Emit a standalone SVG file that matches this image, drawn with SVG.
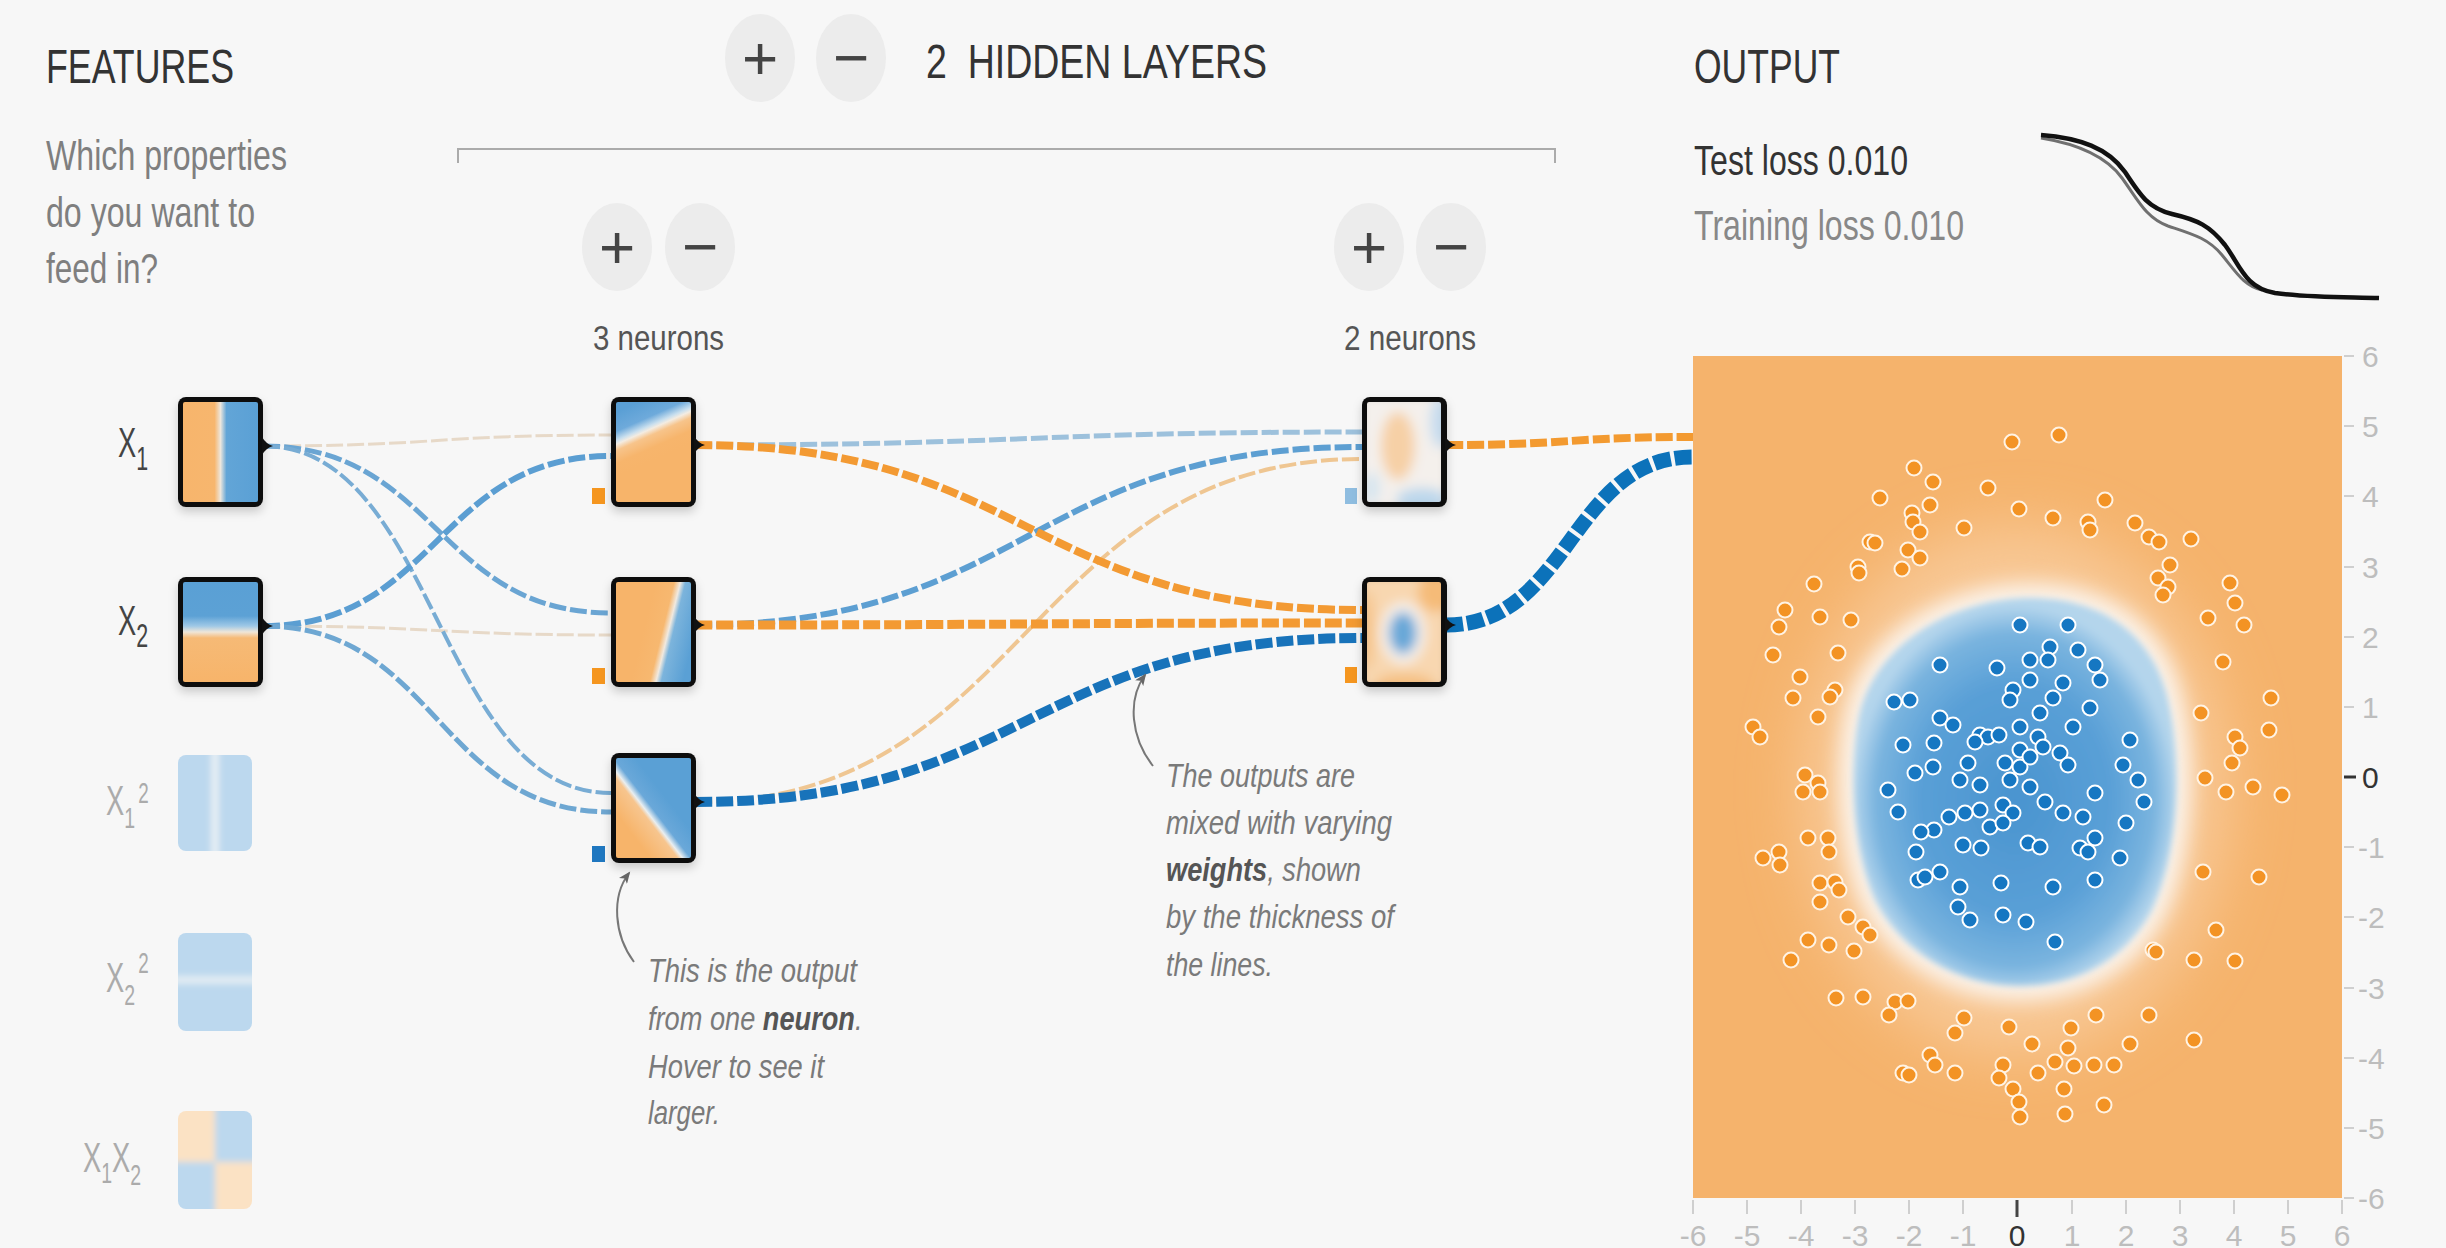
<svg xmlns="http://www.w3.org/2000/svg" xmlns:xlink="http://www.w3.org/1999/xlink" width="2446" height="1248" viewBox="0 0 2446 1248">
<style>
text{font-family:"Liberation Sans",Arial,sans-serif}
.h{font-size:49px;fill:#333}
.sub{font-size:42px;fill:#7f7f7f}
.nl{font-size:35px;fill:#555}
.loss{font-size:43px}
.btn{fill:#ececec}
.sym{font-size:62px;fill:#444;text-anchor:middle}
.xl{font-size:42px;fill:#444}
.xf{font-size:42px;fill:#ababab}
.note{font-size:34px;font-style:italic;fill:#7a7a7a}
.nb{font-weight:bold;fill:#555}
.frame{fill:#111;filter:url(#shadow)}
.bump{fill:#111}
.lk{fill:none;stroke-dasharray:17 4}
.ax{font-size:30px;fill:#bdbdbd}
.axm{font-size:30px;fill:#bdbdbd;text-anchor:middle}
.tk{stroke:#cfcfcf;stroke-width:2}
.pb{fill:#1677c2;stroke:#fff;stroke-width:2}
.po{fill:#f39324;stroke:#fff3e4;stroke-width:2}
</style>
<defs>
<filter id="shadow" x="-20%" y="-20%" width="140%" height="150%"><feDropShadow dx="0" dy="5" stdDeviation="5" flood-color="#000" flood-opacity="0.18"/></filter>
<filter id="blur3" x="-20%" y="-20%" width="140%" height="140%"><feGaussianBlur stdDeviation="3"/></filter>
<filter id="blur5" x="-20%" y="-20%" width="140%" height="140%"><feGaussianBlur stdDeviation="6"/></filter>
<filter id="blurS" x="-20%" y="-20%" width="140%" height="140%"><feGaussianBlur stdDeviation="3"/></filter>
<filter id="blurM" x="-30%" y="-30%" width="160%" height="160%"><feGaussianBlur stdDeviation="10"/></filter>
<filter id="blurL" x="-40%" y="-40%" width="180%" height="180%"><feGaussianBlur stdDeviation="28"/></filter>
<linearGradient id="gX1" gradientUnits="userSpaceOnUse" x1="183" y1="0" x2="258" y2="0">
<stop offset="0" stop-color="#f7b56c"/><stop offset="0.42" stop-color="#f7b66e"/><stop offset="0.5" stop-color="#ede6dc"/><stop offset="0.58" stop-color="#62a5d7"/><stop offset="1" stop-color="#5aa0d5"/>
</linearGradient>
<linearGradient id="gX2" gradientUnits="userSpaceOnUse" x1="0" y1="582" x2="0" y2="682">
<stop offset="0" stop-color="#5aa0d5"/><stop offset="0.34" stop-color="#5ca1d5"/><stop offset="0.44" stop-color="#9fc8e6"/><stop offset="0.5" stop-color="#efe6d8"/><stop offset="0.56" stop-color="#f6ba76"/><stop offset="1" stop-color="#f7b46a"/>
</linearGradient>
<linearGradient id="gN1" gradientUnits="userSpaceOnUse" x1="641" y1="401" x2="665" y2="455">
<stop offset="0" stop-color="#5a9fd5"/><stop offset="0.3" stop-color="#6eaadb"/><stop offset="0.44" stop-color="#c9dfee"/><stop offset="0.5" stop-color="#f3ece2"/><stop offset="0.6" stop-color="#f7c48b"/><stop offset="0.8" stop-color="#f7b56c"/><stop offset="1" stop-color="#f7b46a"/>
</linearGradient>
<linearGradient id="gN2" gradientUnits="userSpaceOnUse" x1="645" y1="625" x2="694" y2="637">
<stop offset="0" stop-color="#f7b46a"/><stop offset="0.36" stop-color="#f7b870"/><stop offset="0.48" stop-color="#f1e9df"/><stop offset="0.58" stop-color="#7cb4dc"/><stop offset="1" stop-color="#5aa0d5"/>
</linearGradient>
<linearGradient id="gN3" gradientUnits="userSpaceOnUse" x1="667" y1="799" x2="628" y2="829">
<stop offset="0" stop-color="#5aa0d5"/><stop offset="0.35" stop-color="#6aa8d9"/><stop offset="0.48" stop-color="#e9eef0"/><stop offset="0.56" stop-color="#f7c58e"/><stop offset="1" stop-color="#f7b46a"/>
</linearGradient>
<radialGradient id="blobGrad" cx="50%" cy="52%" r="50%">
<stop offset="0" stop-color="#4a94cf"/><stop offset="0.6" stop-color="#5aa0d7"/><stop offset="0.86" stop-color="#7ab4df"/><stop offset="1" stop-color="#b4d5ec"/>
</radialGradient>
<clipPath id="cM1"><rect x="1367" y="402" width="74" height="100" rx="2"/></clipPath>
<clipPath id="cM2"><rect x="1367" y="582" width="74" height="100" rx="2"/></clipPath>
<clipPath id="cF1"><rect x="178" y="755" width="74" height="96" rx="8"/></clipPath>
<clipPath id="cF2"><rect x="178" y="933" width="74" height="98" rx="8"/></clipPath>
<clipPath id="cF3"><rect x="178" y="1111" width="74" height="98" rx="8"/></clipPath>
<clipPath id="cPlot"><rect x="1693" y="356" width="649" height="842"/></clipPath>
<marker id="arr" viewBox="0 0 12 10" refX="10" refY="5" markerWidth="13" markerHeight="10" markerUnits="userSpaceOnUse" orient="auto"><path d="M0,0 L12,5 L0,10 L3,5 Z" fill="#666"/></marker>
<circle id="o" r="7.5" class="po"/>
<circle id="b" r="7.5" class="pb"/>
</defs>

<rect x="0" y="0" width="2446" height="1248" fill="#f7f7f7"/>

<!-- Header -->
<g id="features-header">
<text class="h" x="46" y="83" textLength="188" lengthAdjust="spacingAndGlyphs">FEATURES</text>
<text class="sub" x="46" y="170" textLength="241" lengthAdjust="spacingAndGlyphs">Which properties</text>
<text class="sub" x="46" y="227" textLength="209" lengthAdjust="spacingAndGlyphs">do you want to</text>
<text class="sub" x="46" y="283" textLength="112" lengthAdjust="spacingAndGlyphs">feed in?</text>
</g>
<g id="hidden-header">
<ellipse class="btn" cx="760" cy="58" rx="35" ry="44"/>
<text class="sym" x="760" y="79">+</text>
<ellipse class="btn" cx="851" cy="58" rx="35" ry="44"/>
<text class="sym" x="851" y="79">−</text>
<text class="h" x="926" y="78" textLength="341" lengthAdjust="spacingAndGlyphs" xml:space="preserve" style="white-space:pre">2  HIDDEN LAYERS</text>
<path d="M458,163 V149 H1555 V163" fill="none" stroke="#ababab" stroke-width="2"/>
</g>
<g id="layer1-controls">
<ellipse class="btn" cx="617" cy="247" rx="35" ry="44"/>
<text class="sym" x="617" y="268">+</text>
<ellipse class="btn" cx="700" cy="247" rx="35" ry="44"/>
<text class="sym" x="700" y="268">−</text>
<text class="nl" x="593" y="350" textLength="131" lengthAdjust="spacingAndGlyphs">3 neurons</text>
</g>
<g id="layer2-controls">
<ellipse class="btn" cx="1369" cy="247" rx="35" ry="44"/>
<text class="sym" x="1369" y="268">+</text>
<ellipse class="btn" cx="1451" cy="247" rx="35" ry="44"/>
<text class="sym" x="1451" y="268">−</text>
<text class="nl" x="1344" y="350" textLength="132" lengthAdjust="spacingAndGlyphs">2 neurons</text>
</g>
<g id="output-header">
<text class="h" x="1694" y="83" textLength="146" lengthAdjust="spacingAndGlyphs">OUTPUT</text>
<text class="loss" x="1694" y="175" fill="#333" textLength="214" lengthAdjust="spacingAndGlyphs">Test loss 0.010</text>
<text class="loss" x="1694" y="240" fill="#888" textLength="270" lengthAdjust="spacingAndGlyphs">Training loss 0.010</text>
<path d="M2041,138 C2078,144 2106,156 2122,178 C2138,200 2146,218 2168,226 C2192,234 2208,238 2222,255 C2236,272 2244,286 2262,290" fill="none" stroke="#707070" stroke-width="3"/>
<path d="M2041,135 C2080,138 2108,148 2125,172 C2140,195 2148,208 2172,214 C2198,220 2210,226 2225,245 C2240,265 2245,288 2275,293 C2310,298 2350,297 2379,298" fill="none" stroke="#111" stroke-width="4.5"/>
</g>

<!-- Connectors -->
<g id="connectors">
<path class="lk" d="M263,446 C437,446 437,435 611,435" stroke="#e7d9c8" stroke-width="3"/>
<path class="lk" d="M263,626 C437,626 437,635 611,635" stroke="#e7d9c8" stroke-width="3"/>
<path class="lk" d="M263,446 C437,446 437,613 611,613" stroke="#6aa5d3" stroke-width="5"/>
<path class="lk" d="M263,446 C437,446 437,793 611,793" stroke="#78acd4" stroke-width="4"/>
<path class="lk" d="M263,626 C437,626 437,456 611,456" stroke="#5b9ed2" stroke-width="6"/>
<path class="lk" d="M263,626 C437,626 437,812 611,812" stroke="#6ea7d2" stroke-width="5"/>
<path class="lk" d="M695,802 C1028,802 1028,459 1362,459" stroke="#efc692" stroke-width="4"/>
<path class="lk" d="M695,445 C1028,445 1028,432 1362,432" stroke="#9dc1dc" stroke-width="5"/>
<path class="lk" d="M695,625 C1028,625 1028,447 1362,447" stroke="#5d9fd2" stroke-width="6"/>
<path class="lk" d="M695,445 C1028,445 1028,610 1362,610" stroke="#f39a33" stroke-width="8"/>
<path class="lk" d="M695,625 C1028,625 1028,623 1362,623" stroke="#f39a33" stroke-width="9"/>
<path class="lk" d="M695,802 C1028,802 1028,638 1362,638" stroke="#1873ba" stroke-width="10"/>
<path class="lk" d="M1446,445 C1570,445 1570,437 1693,437" stroke="#f39a30" stroke-width="8"/>
<path class="lk" d="M1446,625 C1570,625 1570,457 1693,457" stroke="#0c72ba" stroke-width="15"/>
</g>

<!-- Input features -->
<g id="node-x1">
<text class="xl" transform="translate(118,457) scale(0.65,1)">X<tspan font-size="33" dy="13">1</tspan></text>
<rect class="frame" x="178" y="397" width="85" height="110" rx="8"/>
<rect x="183" y="402" width="75" height="100" rx="2" fill="url(#gX1)"/>
<path class="bump" d="M262,437 Q266,444 273,446 Q266,448 262,455 Z"/>
</g>
<g id="node-x2">
<text class="xl" transform="translate(118,635) scale(0.65,1)">X<tspan font-size="33" dy="12">2</tspan></text>
<rect class="frame" x="178" y="577" width="85" height="110" rx="8"/>
<rect x="183" y="582" width="75" height="100" rx="2" fill="url(#gX2)"/>
<path class="bump" d="M262,617 Q266,624 273,626 Q266,628 262,635 Z"/>
</g>
<g id="node-x1sq">
<text class="xf" transform="translate(106,815) scale(0.65,1)">X<tspan font-size="30" dy="13">1</tspan><tspan font-size="29" dx="5" dy="-25">2</tspan></text>
<g clip-path="url(#cF1)"><g filter="url(#blur3)">
<rect x="168" y="745" width="94" height="116" fill="#bcd8ee"/>
<rect x="211" y="745" width="8" height="116" fill="#e6eef4"/>
</g></g>
</g>
<g id="node-x2sq">
<text class="xf" transform="translate(106,992) scale(0.65,1)">X<tspan font-size="30" dy="13">2</tspan><tspan font-size="29" dx="5" dy="-32">2</tspan></text>
<g clip-path="url(#cF2)"><g filter="url(#blur3)">
<rect x="168" y="923" width="94" height="118" fill="#bcd8ee"/>
<rect x="168" y="976" width="94" height="8" fill="#e2ecf3"/>
</g></g>
</g>
<g id="node-x1x2">
<text class="xf" transform="translate(83,1172) scale(0.65,1)">X<tspan font-size="30" dy="11">1</tspan><tspan dy="-11">X</tspan><tspan font-size="30" dy="13">2</tspan></text>
<g clip-path="url(#cF3)"><g filter="url(#blur3)">
<rect x="168" y="1101" width="94" height="118" fill="#bcd8ee"/>
<rect x="168" y="1101" width="47" height="61" fill="#fbe2c4"/>
<rect x="215" y="1162" width="47" height="57" fill="#fbe2c4"/>
</g></g>
</g>

<!-- Hidden layer 1 -->
<g id="node-h1-1">
<rect x="592" y="488" width="13" height="16" fill="#f5961f"/>
<rect class="frame" x="611" y="397" width="85" height="110" rx="8"/>
<rect x="616" y="402" width="75" height="100" rx="2" fill="url(#gN1)"/>
<path class="bump" d="M694,436 Q698,443 705,445 Q698,447 694,454 Z"/>
</g>
<g id="node-h1-2">
<rect x="592" y="668" width="13" height="16" fill="#f5961f"/>
<rect class="frame" x="611" y="577" width="85" height="110" rx="8"/>
<rect x="616" y="582" width="75" height="100" rx="2" fill="url(#gN2)"/>
<path class="bump" d="M694,616 Q698,623 705,625 Q698,627 694,634 Z"/>
</g>
<g id="node-h1-3">
<rect x="592" y="846" width="13" height="16" fill="#1f77c0"/>
<rect class="frame" x="611" y="753" width="85" height="110" rx="8"/>
<rect x="616" y="758" width="75" height="100" rx="2" fill="url(#gN3)"/>
<path class="bump" d="M694,793 Q698,800 705,802 Q698,804 694,811 Z"/>
</g>

<!-- Hidden layer 2 -->
<g id="node-h2-1">
<rect x="1345" y="488" width="12" height="16" fill="#8fbde0"/>
<rect class="frame" x="1362" y="397" width="85" height="110" rx="8"/>
<g clip-path="url(#cM1)"><g filter="url(#blur5)">
<rect x="1357" y="392" width="94" height="120" fill="#f4f0ec"/>
<ellipse cx="1440" cy="422" rx="10" ry="26" fill="#c6dcee"/>
<ellipse cx="1422" cy="500" rx="26" ry="12" fill="#bcd7ec"/>
<ellipse cx="1372" cy="488" rx="8" ry="16" fill="#d6e5f0"/>
<ellipse cx="1398" cy="446" rx="17" ry="34" fill="#f6d0a6"/>
</g></g>
<path class="bump" d="M1445,436 Q1449,443 1456,445 Q1449,447 1445,454 Z"/>
</g>
<g id="node-h2-2">
<rect x="1345" y="667" width="12" height="16" fill="#f5961f"/>
<rect class="frame" x="1362" y="577" width="85" height="110" rx="8"/>
<g clip-path="url(#cM2)"><g filter="url(#blur5)">
<rect x="1357" y="572" width="94" height="120" fill="#f8d7b0"/>
<ellipse cx="1436" cy="592" rx="18" ry="20" fill="#f5bb78"/>
<ellipse cx="1405" cy="684" rx="30" ry="10" fill="#f5bf80"/>
<ellipse cx="1368" cy="630" rx="6" ry="40" fill="#f6c286"/>
<ellipse cx="1403" cy="633" rx="23" ry="31" fill="#f6f1ec"/>
<ellipse cx="1403" cy="633" rx="14" ry="21" fill="#67a7d8"/>
</g></g>
<path class="bump" d="M1445,616 Q1449,623 1456,625 Q1449,627 1445,634 Z"/>
</g>

<!-- Output plot -->
<g id="output-plot">
<rect x="1693" y="356" width="649" height="842" fill="#f5b36c"/>
<g clip-path="url(#cPlot)">
<ellipse cx="2015" cy="790" rx="215" ry="265" fill="#f8c895" filter="url(#blurL)"/>
<path d="M2030,598 C2100,598 2152,632 2168,700 C2182,760 2180,850 2152,910 C2122,966 2070,986 2020,986 C1958,986 1902,952 1876,902 C1852,852 1848,765 1860,712 C1878,640 1958,598 2030,598 Z" fill="#fbf3ea" stroke="#fbf3ea" stroke-width="30" filter="url(#blurM)"/>
<path d="M2030,598 C2100,598 2152,632 2168,700 C2182,760 2180,850 2152,910 C2122,966 2070,986 2020,986 C1958,986 1902,952 1876,902 C1852,852 1848,765 1860,712 C1878,640 1958,598 2030,598 Z" fill="url(#blobGrad)" filter="url(#blurS)"/>
</g>
<g id="points-orange">
<use href="#o" x="2012" y="442"/><use href="#o" x="2059" y="435"/><use href="#o" x="1914" y="468"/><use href="#o" x="1933" y="482"/><use href="#o" x="1880" y="498"/><use href="#o" x="1988" y="488"/><use href="#o" x="1930" y="505"/><use href="#o" x="1912" y="513"/><use href="#o" x="1913" y="522"/><use href="#o" x="1920" y="532"/><use href="#o" x="1964" y="528"/><use href="#o" x="2019" y="509"/><use href="#o" x="2053" y="518"/><use href="#o" x="2088" y="522"/><use href="#o" x="2090" y="530"/><use href="#o" x="2105" y="500"/><use href="#o" x="2135" y="523"/><use href="#o" x="2149" y="537"/><use href="#o" x="2159" y="542"/><use href="#o" x="2191" y="539"/><use href="#o" x="1870" y="542"/><use href="#o" x="1875" y="543"/><use href="#o" x="1908" y="550"/><use href="#o" x="1920" y="558"/><use href="#o" x="1902" y="569"/><use href="#o" x="1858" y="567"/><use href="#o" x="1859" y="573"/><use href="#o" x="1814" y="584"/><use href="#o" x="2170" y="565"/><use href="#o" x="2158" y="578"/><use href="#o" x="2168" y="587"/><use href="#o" x="2163" y="595"/><use href="#o" x="2230" y="583"/><use href="#o" x="2235" y="603"/><use href="#o" x="2244" y="625"/><use href="#o" x="2208" y="618"/><use href="#o" x="1785" y="610"/><use href="#o" x="1779" y="627"/><use href="#o" x="1820" y="617"/><use href="#o" x="1851" y="620"/><use href="#o" x="1773" y="655"/><use href="#o" x="1838" y="653"/><use href="#o" x="1800" y="677"/><use href="#o" x="1793" y="698"/><use href="#o" x="1835" y="690"/><use href="#o" x="1830" y="697"/><use href="#o" x="1818" y="717"/><use href="#o" x="1753" y="727"/><use href="#o" x="1760" y="737"/><use href="#o" x="2223" y="662"/><use href="#o" x="2271" y="698"/><use href="#o" x="2201" y="713"/><use href="#o" x="2269" y="730"/><use href="#o" x="2235" y="737"/><use href="#o" x="2240" y="748"/><use href="#o" x="2232" y="763"/><use href="#o" x="2205" y="778"/><use href="#o" x="2226" y="792"/><use href="#o" x="2253" y="787"/><use href="#o" x="2282" y="795"/><use href="#o" x="1805" y="775"/><use href="#o" x="1803" y="792"/><use href="#o" x="1818" y="783"/><use href="#o" x="1820" y="792"/>
<use href="#o" x="1808" y="838"/><use href="#o" x="1828" y="838"/><use href="#o" x="1829" y="852"/><use href="#o" x="1763" y="858"/><use href="#o" x="1779" y="852"/><use href="#o" x="1780" y="865"/><use href="#o" x="1820" y="883"/><use href="#o" x="1835" y="882"/><use href="#o" x="1839" y="890"/><use href="#o" x="1820" y="902"/><use href="#o" x="1848" y="917"/><use href="#o" x="1863" y="927"/><use href="#o" x="1870" y="935"/><use href="#o" x="1808" y="940"/><use href="#o" x="1829" y="945"/><use href="#o" x="1854" y="951"/><use href="#o" x="1791" y="960"/><use href="#o" x="2203" y="872"/><use href="#o" x="2259" y="877"/><use href="#o" x="2216" y="930"/><use href="#o" x="2153" y="950"/><use href="#o" x="2156" y="952"/><use href="#o" x="2194" y="960"/><use href="#o" x="2235" y="961"/><use href="#o" x="1836" y="998"/><use href="#o" x="1863" y="997"/><use href="#o" x="1895" y="1002"/><use href="#o" x="1908" y="1001"/><use href="#o" x="1889" y="1015"/><use href="#o" x="1964" y="1018"/><use href="#o" x="1955" y="1033"/><use href="#o" x="2009" y="1027"/><use href="#o" x="2032" y="1044"/><use href="#o" x="2071" y="1028"/><use href="#o" x="2096" y="1015"/><use href="#o" x="2149" y="1015"/><use href="#o" x="2130" y="1044"/><use href="#o" x="2194" y="1040"/><use href="#o" x="1930" y="1055"/><use href="#o" x="1935" y="1065"/><use href="#o" x="1955" y="1073"/><use href="#o" x="1903" y="1073"/><use href="#o" x="1909" y="1075"/><use href="#o" x="2003" y="1065"/><use href="#o" x="1999" y="1078"/><use href="#o" x="2013" y="1089"/><use href="#o" x="2019" y="1102"/><use href="#o" x="2020" y="1117"/><use href="#o" x="2038" y="1073"/><use href="#o" x="2055" y="1062"/><use href="#o" x="2068" y="1048"/><use href="#o" x="2074" y="1066"/><use href="#o" x="2094" y="1065"/><use href="#o" x="2114" y="1065"/><use href="#o" x="2064" y="1089"/><use href="#o" x="2065" y="1114"/><use href="#o" x="2104" y="1105"/>
</g>
<g id="points-blue">
<use href="#b" x="2020" y="625"/><use href="#b" x="2068" y="625"/><use href="#b" x="2050" y="647"/><use href="#b" x="2078" y="650"/><use href="#b" x="2030" y="660"/><use href="#b" x="1940" y="665"/><use href="#b" x="1997" y="668"/><use href="#b" x="2095" y="665"/><use href="#b" x="2030" y="680"/><use href="#b" x="2063" y="683"/><use href="#b" x="2100" y="680"/><use href="#b" x="2048" y="660"/><use href="#b" x="2013" y="690"/><use href="#b" x="2053" y="698"/><use href="#b" x="2010" y="700"/><use href="#b" x="2090" y="708"/><use href="#b" x="1894" y="702"/><use href="#b" x="1910" y="700"/><use href="#b" x="1940" y="718"/><use href="#b" x="1953" y="725"/><use href="#b" x="2040" y="713"/><use href="#b" x="2073" y="727"/><use href="#b" x="2020" y="727"/><use href="#b" x="1903" y="745"/><use href="#b" x="1934" y="743"/><use href="#b" x="1980" y="735"/><use href="#b" x="1988" y="737"/><use href="#b" x="1975" y="742"/><use href="#b" x="1999" y="735"/><use href="#b" x="2038" y="737"/><use href="#b" x="2043" y="747"/><use href="#b" x="2060" y="753"/><use href="#b" x="2130" y="740"/><use href="#b" x="1915" y="773"/><use href="#b" x="1933" y="767"/><use href="#b" x="1960" y="780"/><use href="#b" x="1968" y="763"/><use href="#b" x="2005" y="763"/><use href="#b" x="2020" y="767"/><use href="#b" x="2068" y="765"/><use href="#b" x="2123" y="765"/><use href="#b" x="1980" y="785"/><use href="#b" x="2010" y="780"/><use href="#b" x="2030" y="787"/><use href="#b" x="2138" y="780"/><use href="#b" x="1888" y="790"/><use href="#b" x="2095" y="793"/><use href="#b" x="2020" y="750"/><use href="#b" x="2030" y="757"/>
<use href="#b" x="1898" y="812"/><use href="#b" x="2045" y="802"/><use href="#b" x="2063" y="813"/><use href="#b" x="2003" y="805"/><use href="#b" x="2013" y="813"/><use href="#b" x="1980" y="810"/><use href="#b" x="1965" y="813"/><use href="#b" x="1949" y="817"/><use href="#b" x="1934" y="830"/><use href="#b" x="1921" y="832"/><use href="#b" x="1990" y="827"/><use href="#b" x="2003" y="823"/><use href="#b" x="2083" y="817"/><use href="#b" x="2144" y="802"/><use href="#b" x="2126" y="823"/><use href="#b" x="2095" y="838"/><use href="#b" x="2080" y="848"/><use href="#b" x="1963" y="845"/><use href="#b" x="1981" y="848"/><use href="#b" x="2028" y="843"/><use href="#b" x="2040" y="847"/><use href="#b" x="2120" y="858"/><use href="#b" x="1916" y="852"/><use href="#b" x="1918" y="880"/><use href="#b" x="1925" y="877"/><use href="#b" x="1940" y="872"/><use href="#b" x="1960" y="887"/><use href="#b" x="2001" y="883"/><use href="#b" x="2053" y="887"/><use href="#b" x="2095" y="880"/><use href="#b" x="1958" y="907"/><use href="#b" x="1970" y="920"/><use href="#b" x="2003" y="915"/><use href="#b" x="2026" y="922"/><use href="#b" x="2055" y="942"/><use href="#b" x="2088" y="852"/>
</g>
<g id="y-axis">
<line class="tk" x1="2344" y1="356" x2="2354" y2="356"/><text class="ax" x="2362" y="367">6</text>
<line class="tk" x1="2344" y1="426" x2="2354" y2="426"/><text class="ax" x="2362" y="437">5</text>
<line class="tk" x1="2344" y1="496" x2="2354" y2="496"/><text class="ax" x="2362" y="507">4</text>
<line class="tk" x1="2344" y1="567" x2="2354" y2="567"/><text class="ax" x="2362" y="578">3</text>
<line class="tk" x1="2344" y1="637" x2="2354" y2="637"/><text class="ax" x="2362" y="648">2</text>
<line class="tk" x1="2344" y1="707" x2="2354" y2="707"/><text class="ax" x="2362" y="718">1</text>
<line x1="2344" y1="777" x2="2356" y2="777" stroke="#333" stroke-width="3"/><text class="ax" x="2362" y="788" style="fill:#333">0</text>
<line class="tk" x1="2344" y1="847" x2="2354" y2="847"/><text class="ax" x="2358" y="858">-1</text>
<line class="tk" x1="2344" y1="917" x2="2354" y2="917"/><text class="ax" x="2358" y="928">-2</text>
<line class="tk" x1="2344" y1="988" x2="2354" y2="988"/><text class="ax" x="2358" y="999">-3</text>
<line class="tk" x1="2344" y1="1058" x2="2354" y2="1058"/><text class="ax" x="2358" y="1069">-4</text>
<line class="tk" x1="2344" y1="1128" x2="2354" y2="1128"/><text class="ax" x="2358" y="1139">-5</text>
<line class="tk" x1="2344" y1="1198" x2="2354" y2="1198"/><text class="ax" x="2358" y="1209">-6</text>
</g>
<g id="x-axis">
<line class="tk" x1="1693" y1="1200" x2="1693" y2="1214"/><text class="axm" x="1693" y="1246">-6</text>
<line class="tk" x1="1747" y1="1200" x2="1747" y2="1214"/><text class="axm" x="1747" y="1246">-5</text>
<line class="tk" x1="1801" y1="1200" x2="1801" y2="1214"/><text class="axm" x="1801" y="1246">-4</text>
<line class="tk" x1="1855" y1="1200" x2="1855" y2="1214"/><text class="axm" x="1855" y="1246">-3</text>
<line class="tk" x1="1909" y1="1200" x2="1909" y2="1214"/><text class="axm" x="1909" y="1246">-2</text>
<line class="tk" x1="1963" y1="1200" x2="1963" y2="1214"/><text class="axm" x="1963" y="1246">-1</text>
<line x1="2017" y1="1200" x2="2017" y2="1217" stroke="#444" stroke-width="3"/><text class="axm" x="2017" y="1246" style="fill:#333">0</text>
<line class="tk" x1="2072" y1="1200" x2="2072" y2="1214"/><text class="axm" x="2072" y="1246">1</text>
<line class="tk" x1="2126" y1="1200" x2="2126" y2="1214"/><text class="axm" x="2126" y="1246">2</text>
<line class="tk" x1="2180" y1="1200" x2="2180" y2="1214"/><text class="axm" x="2180" y="1246">3</text>
<line class="tk" x1="2234" y1="1200" x2="2234" y2="1214"/><text class="axm" x="2234" y="1246">4</text>
<line class="tk" x1="2288" y1="1200" x2="2288" y2="1214"/><text class="axm" x="2288" y="1246">5</text>
<line class="tk" x1="2342" y1="1200" x2="2342" y2="1214"/><text class="axm" x="2342" y="1246">6</text>
</g>
</g>

<!-- Annotations -->
<g id="note-neuron">
<path d="M634,962 C614,935 611,897 629,873" fill="none" stroke="#777" stroke-width="2" marker-end="url(#arr)"/>
<text class="note" x="648" y="982" textLength="209" lengthAdjust="spacingAndGlyphs">This is the output</text>
<text class="note" transform="translate(648,1030) scale(0.8,1)">from one <tspan class="nb">neuron</tspan>.</text>
<text class="note" x="648" y="1078" textLength="176" lengthAdjust="spacingAndGlyphs">Hover to see it</text>
<text class="note" x="648" y="1124" textLength="72" lengthAdjust="spacingAndGlyphs">larger.</text>
</g>
<g id="note-weights">
<path d="M1153,766 C1131,738 1127,700 1145,675" fill="none" stroke="#777" stroke-width="2" marker-end="url(#arr)"/>
<text class="note" x="1166" y="787" textLength="189" lengthAdjust="spacingAndGlyphs">The outputs are</text>
<text class="note" x="1166" y="834" textLength="226" lengthAdjust="spacingAndGlyphs">mixed with varying</text>
<text class="note" transform="translate(1166,881) scale(0.8,1)"><tspan class="nb">weights</tspan>, shown</text>
<text class="note" x="1166" y="928" textLength="228" lengthAdjust="spacingAndGlyphs">by the thickness of</text>
<text class="note" x="1166" y="976" textLength="107" lengthAdjust="spacingAndGlyphs">the lines.</text>
</g>
</svg>
